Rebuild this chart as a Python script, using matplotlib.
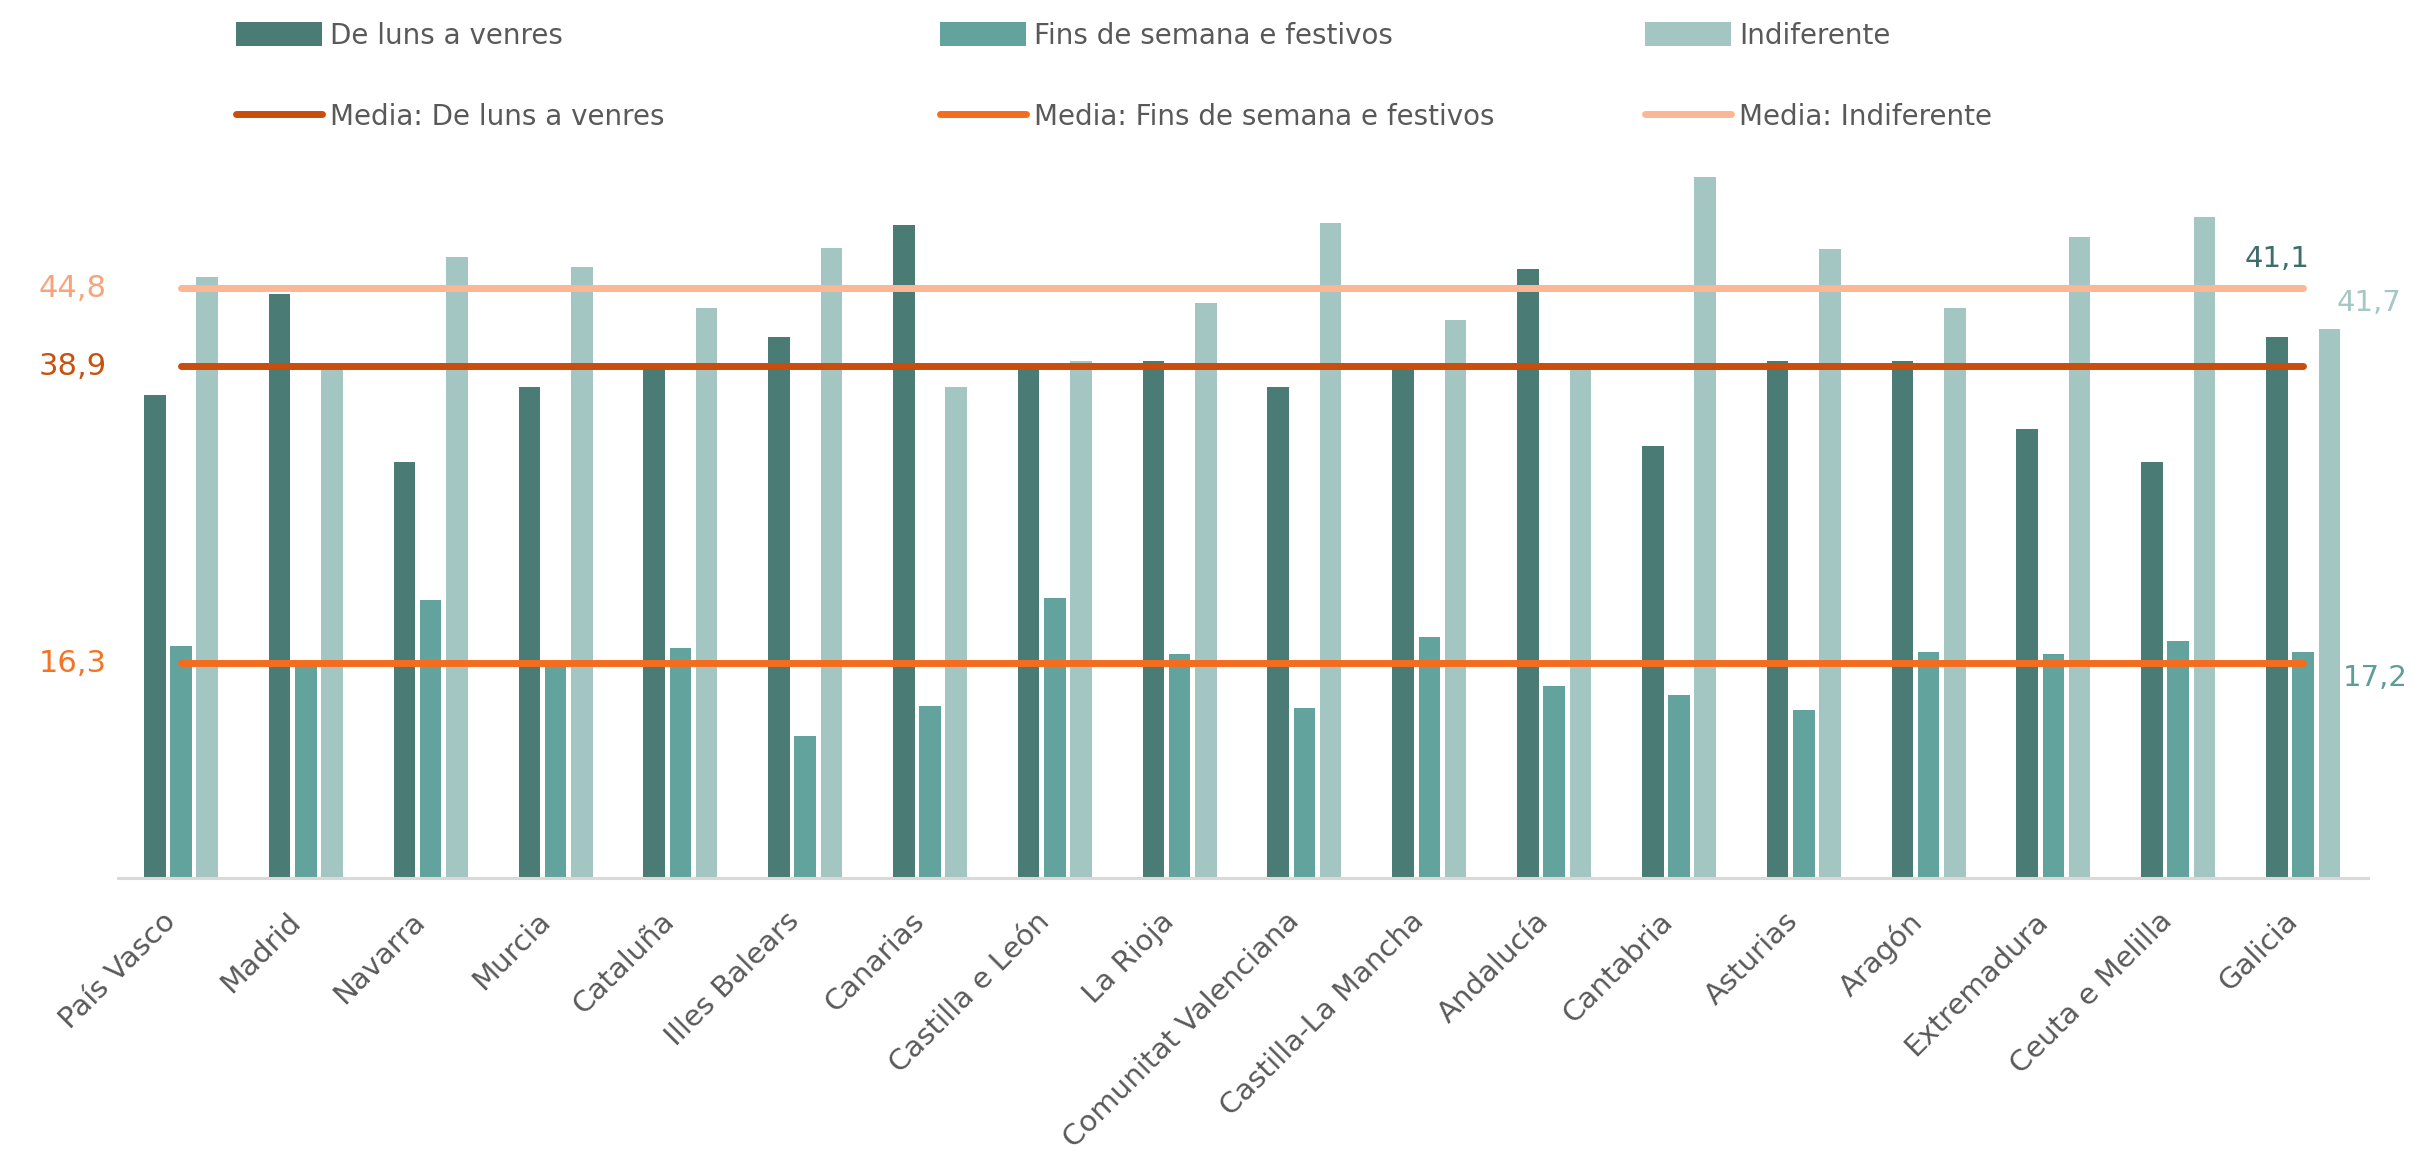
import numpy as np
import matplotlib
matplotlib.use("Agg")
import matplotlib.pyplot as plt
from matplotlib.patches import Patch
from matplotlib.lines import Line2D

plt.rcParams['font.family'] = ['DejaVu Sans']

categories = ["País Vasco", "Madrid", "Navarra", "Murcia", "Cataluña", "Illes Balears",
              "Canarias", "Castilla e León", "La Rioja", "Comunitat Valenciana",
              "Castilla-La Mancha", "Andalucía", "Cantabria", "Asturias", "Aragón",
              "Extremadura", "Ceuta e Melilla", "Galicia"]
luns = [36.7, 44.4, 31.6, 37.3, 38.7, 41.1, 49.6, 38.7, 39.3, 37.3,
        38.7, 46.3, 32.8, 39.3, 39.3, 34.1, 31.6, 41.1]
fins = [17.6, 16.3, 21.1, 16.1, 17.5, 10.8, 13.1, 21.3, 17.0, 12.9,
        18.3, 14.6, 13.9, 12.8, 17.2, 17.0, 18.0, 17.2]
indif = [45.7, 38.7, 47.2, 46.4, 43.3, 47.9, 37.3, 39.3, 43.7, 49.8,
         42.4, 38.7, 53.3, 47.8, 43.3, 48.7, 50.2, 41.7]
mean_luns = 38.9
mean_fins = 16.3
mean_indif = 44.8
series_names = ["De luns a venres", "Fins de semana e festivos", "Indiferente"]
mean_names = ["Media: De luns a venres", "Media: Fins de semana e festivos", "Media: Indiferente"]

c_luns, c_fins, c_indif = "#4A7B75", "#63A39E", "#A3C6C3"
c_mluns, c_mfins, c_mindif = "#C94D0C", "#F46C1E", "#FBB794"
txt_gray = "#595959"

W, H = 2427, 1162
fig = plt.figure(figsize=(W / 100, H / 100), dpi=100)
ax = fig.add_axes([118 / W, 1 - 878 / H, (2368 - 118) / W, (878 - 141) / H])

x = np.arange(len(categories))
bw = 0.173
off = 0.21
ax.bar(x - off, luns, bw, color=c_luns, zorder=2)
ax.bar(x, fins, bw, color=c_fins, zorder=2)
ax.bar(x + off, indif, bw, color=c_indif, zorder=2)

lw = 5
for m, c in [(mean_indif, c_mindif), (mean_luns, c_mluns), (mean_fins, c_mfins)]:
    ax.plot(x, np.full(len(x), m), color=c, lw=lw, solid_capstyle='round', zorder=3)

ax.set_xlim(-0.505, 17.52)
ax.set_ylim(0, 56)
ax.set_yticks([])
ax.set_xticks(x)
ax.set_xticklabels(categories, rotation=45, ha='right', fontsize=21, color=txt_gray)
ax.tick_params(axis='x', length=0, pad=21)
for s in ['top', 'left', 'right']:
    ax.spines[s].set_visible(False)
ax.spines['bottom'].set_color('#D9D9D9')
ax.spines['bottom'].set_linewidth(2.2)

# mean value labels on the left
for m, c in [(mean_indif, "#F7A47B"), (mean_luns, "#C8510F"), (mean_fins, "#F47424")]:
    ax.annotate(f"{m:.1f}".replace('.', ','), xy=(x[0], m), xytext=(-74, 0),
                textcoords='offset pixels', ha='right', va='center',
                fontsize=22, color=c)

# Galicia data labels
gi = len(categories) - 1
ax.annotate(f"{luns[gi]:.1f}".replace('.', ','), xy=(x[gi] - off, luns[gi]), xytext=(0, 78),
            textcoords='offset pixels', ha='center', va='center', fontsize=21, color="#3F6E68")
ax.annotate(f"{indif[gi]:.1f}".replace('.', ','), xy=(x[gi] + off, indif[gi]), xytext=(40, 26),
            textcoords='offset pixels', ha='center', va='center', fontsize=21, color="#A5C8C5")
ax.annotate(f"{fins[gi]:.1f}".replace('.', ','), xy=(x[gi], fins[gi]), xytext=(72, -26),
            textcoords='offset pixels', ha='center', va='center', fontsize=21, color="#5E9E98")

# legends: three columns, each with bar on top and mean line below
cols = [(c_luns, c_mluns), (c_fins, c_mfins), (c_indif, c_mindif)]
lefts = [236, 940, 1645]
for (cb, cl), name, mname, lx in zip(cols, series_names, mean_names, lefts):
    handles = [Patch(facecolor=cb, edgecolor='none'),
               Line2D([0], [0], color=cl, lw=lw, solid_capstyle='round')]
    fig.legend(handles, [name, mname], loc='upper left',
               bbox_to_anchor=(lx / W, 1 - 22 / H), frameon=False,
               fontsize=20, labelcolor=txt_gray, handlelength=3.1, handleheight=0.95,
               handletextpad=0.3, labelspacing=1.9, borderpad=0, borderaxespad=0)

fig.savefig("out.png", dpi=100, facecolor='white')
